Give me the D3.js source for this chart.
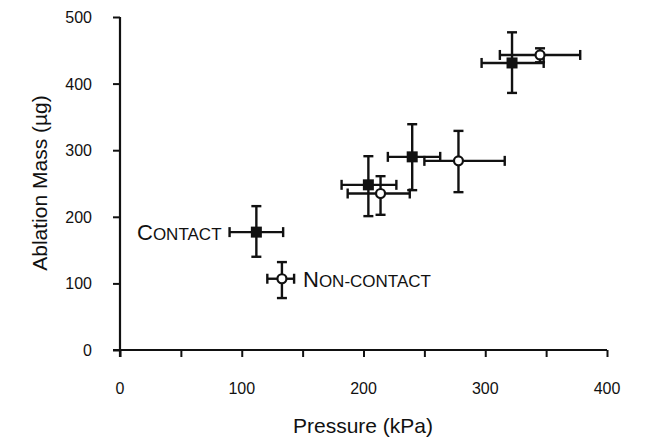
<!DOCTYPE html>
<html>
<head>
<meta charset="utf-8">
<script src="https://cdn.jsdelivr.net/npm/d3@7"></script>
<style>
html,body{margin:0;padding:0;background:#fff;}
svg{display:block;}
text{font-family:"Liberation Sans",Arial,Helvetica,sans-serif;fill:#111;}
</style>
</head>
<body>
<svg id="chart" width="650" height="439"></svg>
<script>
// ---- data ----
const xTicks = [0, 100, 200, 300, 400];
const xMinorTicks = [0, 50, 100, 150, 200, 250, 300, 350, 400];
const yTicks = [0, 100, 200, 300, 400, 500];

// Contact (filled squares)
const contactX    = [112, 204, 240, 322];
const contactY    = [177, 248, 290, 431];
const contactXLo  = [90, 182, 220, 297];
const contactXHi  = [134, 227, 263, 348];
const contactYLo  = [140, 201, 240, 386];
const contactYHi  = [216, 291, 339, 477];

// Non-contact (open circles)
const nonX    = [133, 214, 278, 345];
const nonY    = [107, 235, 284, 443];
const nonXLo  = [121, 187, 250, 312];
const nonXHi  = [143, 238, 316, 378];
const nonYLo  = [78, 203, 237, 432];
const nonYHi  = [132, 261, 329, 453];

const xTitle = "Pressure (kPa)";
const yTitle = "Ablation Mass (\u00b5g)";

// ---- layout ----
const svg = d3.select("#chart");
const x = d3.scaleLinear().domain([0, 400]).range([120, 607]);
const y = d3.scaleLinear().domain([0, 500]).range([350, 17]);

const g = svg.append("g");

// x axis
const xAxis = d3.axisBottom(x).tickValues(xMinorTicks).tickSize(7).tickFormat("");
const gx = g.append("g").attr("transform", `translate(0,${y(0)})`).call(xAxis);
gx.select(".domain").attr("d", `M${x(0)-7},0H${x(400)}`).attr("stroke", "#111").attr("stroke-width", 2.2);
gx.selectAll(".tick line").attr("stroke", "#111").attr("stroke-width", 2);
g.append("g").selectAll("text").data(xTicks).join("text")
  .attr("x", d => x(d)).attr("y", 394)
  .attr("text-anchor", "middle").attr("font-size", 16).text(d => d);

// y axis
const yAxis = d3.axisLeft(y).tickValues(yTicks).tickSize(7).tickFormat("");
const gy = g.append("g").attr("transform", `translate(${x(0)},0)`).call(yAxis);
gy.select(".domain").attr("d", `M0,${y(500)}V${y(0)+7}`).attr("stroke", "#111").attr("stroke-width", 2.2);
gy.selectAll(".tick line").attr("stroke", "#111").attr("stroke-width", 2);
g.append("g").selectAll("text").data(yTicks).join("text")
  .attr("x", 92).attr("y", d => y(d) + 6)
  .attr("text-anchor", "end").attr("font-size", 16).text(d => d);

// titles
g.append("text").attr("x", 363).attr("y", 433).attr("text-anchor", "middle")
  .attr("font-size", 21).text(xTitle);
g.append("text").attr("transform", `translate(47,${183}) rotate(-90)`)
  .attr("text-anchor", "middle").attr("font-size", 21).text(yTitle);

// error bars
function drawSeries(xs, ys, xlo, xhi, ylo, yhi, kind) {
  const data = xs.map((d, i) => ({x: d, y: ys[i], xlo: xlo[i], xhi: xhi[i], ylo: ylo[i], yhi: yhi[i]}));
  const s = g.append("g").attr("stroke", "#111").attr("stroke-width", 2.4).attr("fill", "none");
  const cap = 5;
  data.forEach(d => {
    s.append("line").attr("x1", x(d.xlo)).attr("x2", x(d.xhi)).attr("y1", y(d.y)).attr("y2", y(d.y));
    s.append("line").attr("x1", x(d.x)).attr("x2", x(d.x)).attr("y1", y(d.ylo)).attr("y2", y(d.yhi));
    s.append("line").attr("x1", x(d.xlo)).attr("x2", x(d.xlo)).attr("y1", y(d.y)-cap).attr("y2", y(d.y)+cap);
    s.append("line").attr("x1", x(d.xhi)).attr("x2", x(d.xhi)).attr("y1", y(d.y)-cap).attr("y2", y(d.y)+cap);
    s.append("line").attr("y1", y(d.ylo)).attr("y2", y(d.ylo)).attr("x1", x(d.x)-cap).attr("x2", x(d.x)+cap);
    s.append("line").attr("y1", y(d.yhi)).attr("y2", y(d.yhi)).attr("x1", x(d.x)-cap).attr("x2", x(d.x)+cap);
  });
  if (kind === "square") {
    g.append("g").selectAll("rect").data(data).join("rect")
      .attr("x", d => x(d.x) - 5.5).attr("y", d => y(d.y) - 5.5)
      .attr("width", 11).attr("height", 11).attr("fill", "#111");
  } else {
    g.append("g").selectAll("circle").data(data).join("circle")
      .attr("cx", d => x(d.x)).attr("cy", d => y(d.y)).attr("r", 4.5)
      .attr("fill", "#fff").attr("stroke", "#111").attr("stroke-width", 2.2);
  }
}
drawSeries(contactX, contactY, contactXLo, contactXHi, contactYLo, contactYHi, "square");
drawSeries(nonX, nonY, nonXLo, nonXHi, nonYLo, nonYHi, "circle");

// labels (small caps)
const lab1 = g.append("text").attr("x", 137).attr("y", 240);
lab1.append("tspan").attr("font-size", 22).text("C");
lab1.append("tspan").attr("font-size", 17).text("ONTACT");
const lab2 = g.append("text").attr("x", 303).attr("y", 287);
lab2.append("tspan").attr("font-size", 22).text("N");
lab2.append("tspan").attr("font-size", 17).text("ON-CONTACT");
</script>
</body>
</html>
